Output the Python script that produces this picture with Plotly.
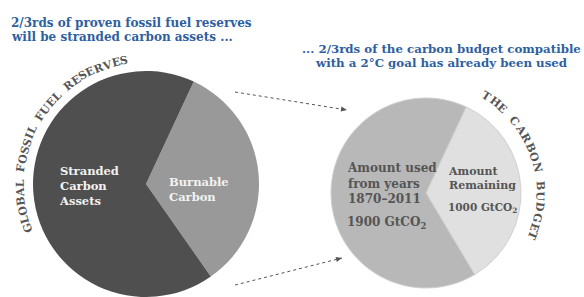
import math
import plotly.graph_objects as go

# ---- data ----
reserve_labels = ["Burnable Carbon", "Stranded Carbon Assets"]
reserve_shares = [1, 2]
reserve_colors = ["#999999", "#4f4f4f"]

budget_labels = ["Amount Remaining", "Amount used 1870–2011"]
budget_values = [1000, 1900]   # GtCO2
budget_colors = ["#e0e0e0", "#b8b8b8"]

title_left = ["2/3rds of proven fossil fuel reserves", "will be stranded carbon assets ..."]
title_right = ["... 2/3rds of the carbon budget compatible", "with a 2°C goal has already been used"]
arc_left_text = "GLOBAL FOSSIL FUEL RESERVES"
arc_right_text = "THE CARBON BUDGET"

W, H = 584, 297
FONT = "DejaVu Serif"
BLUE = "#2f5f9f"


def px(x):
    return x / W


def py(y):
    return 1 - y / H


fig = go.Figure()

# left pie
c1, r1 = (146, 184), 113
fig.add_trace(go.Pie(
    labels=reserve_labels, values=reserve_shares, sort=False,
    direction="clockwise", rotation=25, textinfo="none", hoverinfo="label+percent",
    marker=dict(colors=reserve_colors, line=dict(width=0)),
    domain=dict(x=[px(c1[0] - r1), px(c1[0] + r1)], y=[max(0, py(c1[1] + r1)), py(c1[1] - r1)]),
    showlegend=False))

# right pie
c2, r2 = (426, 193), 95
fig.add_trace(go.Pie(
    labels=budget_labels, values=budget_values, sort=False,
    direction="clockwise", rotation=25, textinfo="none", hoverinfo="label+value",
    marker=dict(colors=budget_colors, line=dict(width=1, color="#d0d0d0")),
    domain=dict(x=[px(c2[0] - r2), px(c2[0] + r2)], y=[py(c2[1] + r2), py(c2[1] - r2)]),
    showlegend=False))

ann = []


def text(x, y, s, size, color, xanchor="left", yanchor="middle", align="left"):
    ann.append(dict(x=px(x), y=py(y), xref="paper", yref="paper", text=s, showarrow=False,
                    xanchor=xanchor, yanchor=yanchor, align=align,
                    font=dict(family=FONT, size=size, color=color, weight="bold")))


# titles
text(9, 23, title_left[0], 12, BLUE)
text(9, 37, title_left[1], 12, BLUE)
text(441, 49, title_right[0], 11.8, BLUE, xanchor="center")
text(441, 63, title_right[1], 11.8, BLUE, xanchor="center")

# slice labels
text(57, 186, "Stranded<br>Carbon<br>Assets", 11.5, "#f2f2f2")
text(167, 189, "Burnable<br>Carbon", 11.5, "#f2f2f2")
text(345, 183, "Amount used<br>from years<br>1870–2011", 12, "#555555")
text(345, 223, "1900 GtCO<sub>2</sub>", 12, "#555555")
text(446, 178, "Amount<br>Remaining", 11, "#555555")
text(446, 208, "1000 GtCO<sub>2</sub>", 10.5, "#555555")

# rough relative glyph widths for the arc lettering
GLYPH_W = {"I": 0.55, "L": 0.85, "E": 0.9, "F": 0.85, "T": 0.9, " ": 0.8,
           "G": 1.05, "O": 1.05, "B": 1.0, "A": 1.05, "C": 1.0, "D": 1.05,
           "N": 1.05, "U": 1.05, "R": 1.0, "S": 0.9, "V": 1.0, "H": 1.05}


# curved texts
def arc_text(s, center, radius, a0, a1, size):
    steps = [0.0]
    for i in range(1, len(s)):
        w = (GLYPH_W.get(s[i], 1.0) + GLYPH_W.get(s[i - 1], 1.0)) / 2
        steps.append(steps[-1] + w)
    total = steps[-1]
    for ch, st in zip(s, steps):
        if ch == " ":
            continue
        th = a0 + (a1 - a0) * st / total
        t = math.radians(th)
        x = center[0] + radius * math.sin(t)
        y = center[1] - radius * math.cos(t)
        ann.append(dict(x=px(x), y=py(y), xref="paper", yref="paper", text=ch, showarrow=False,
                        xanchor="center", yanchor="middle", textangle=th,
                        font=dict(family=FONT, size=size, color="#555555", weight="bold")))


arc_text(arc_left_text, (146, 185), 126, -110, -10, 11)
arc_text(arc_right_text, (426, 193), 114, 32, 112, 11)

# dotted connectors with arrowheads
shapes = []
for (x0, y0, x1, y1) in [(235, 92, 347, 110), (235, 285, 342, 258)]:
    shapes.append(dict(type="line", xref="paper", yref="paper", x0=px(x0), y0=py(y0),
                       x1=px(x1), y1=py(y1), line=dict(color="#555555", width=1, dash="dot")))
    dx, dy = x1 - x0, y1 - y0
    L = math.hypot(dx, dy)
    ux, uy = dx / L, dy / L
    bx, by = x1 - ux * 6, y1 - uy * 6
    p1 = (bx - uy * 2.5, by + ux * 2.5)
    p2 = (bx + uy * 2.5, by - ux * 2.5)
    path = "M {:.5f} {:.5f} L {:.5f} {:.5f} L {:.5f} {:.5f} Z".format(
        px(x1), py(y1), px(p1[0]), py(p1[1]), px(p2[0]), py(p2[1]))
    shapes.append(dict(type="path", xref="paper", yref="paper", path=path,
                       fillcolor="#555555", line=dict(width=0)))

fig.update_layout(width=W, height=H, margin=dict(l=0, r=0, t=0, b=0),
                  paper_bgcolor="white", plot_bgcolor="white",
                  annotations=ann, shapes=shapes)

fig.write_html("out.html", config={"displayModeBar": False},
               post_script="document.body.style.margin='0';document.body.style.overflow='hidden';")
